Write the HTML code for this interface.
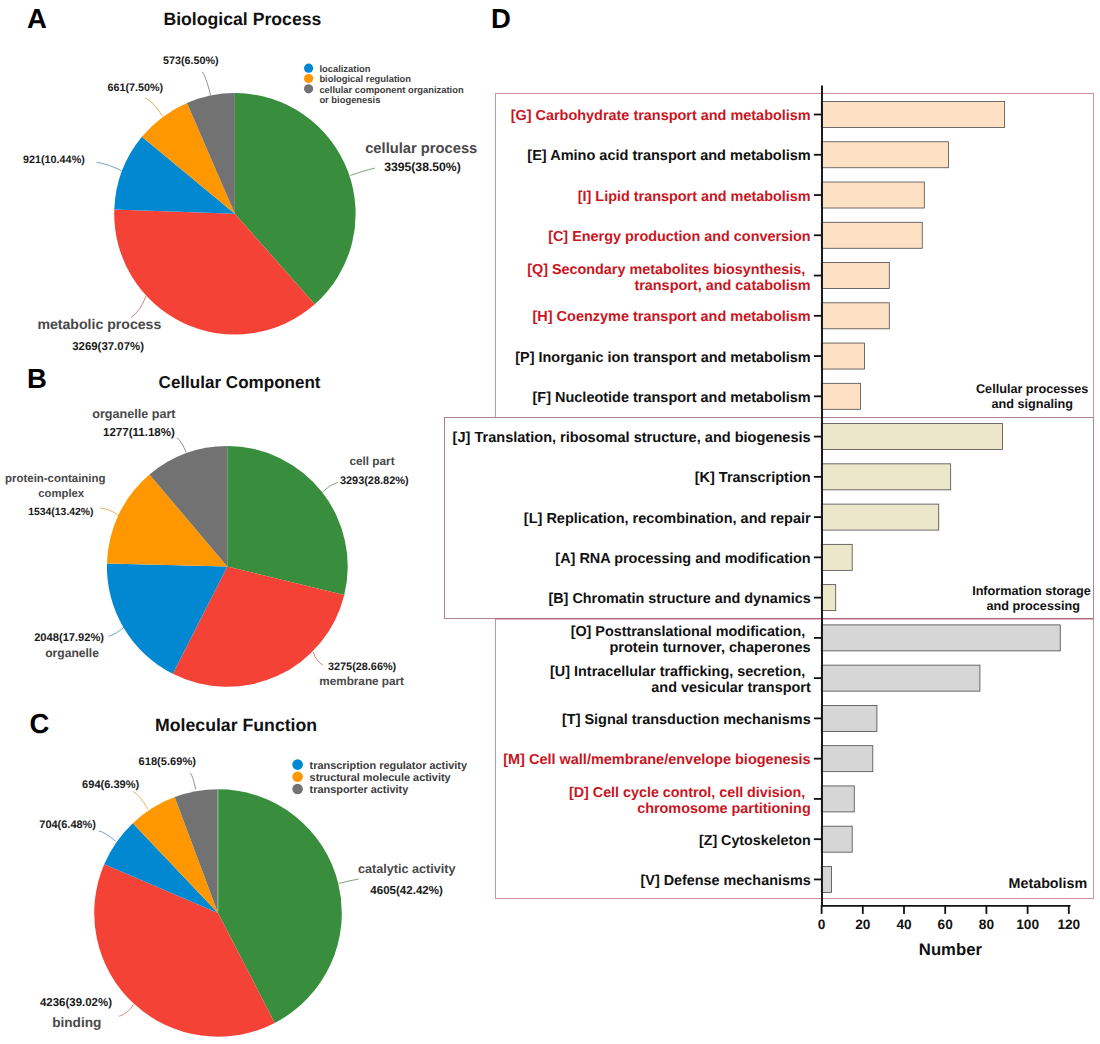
<!DOCTYPE html>
<html><head><meta charset="utf-8"><title>GO and COG annotation</title>
<style>
html,body{margin:0;padding:0;background:#fff;}
body{width:1100px;height:1044px;overflow:hidden;}
svg{display:block;position:absolute;left:0;top:0;font-family:"Liberation Sans",sans-serif;text-rendering:geometricPrecision;}
</style></head>
<body>
<svg width="1100" height="1044" viewBox="0 0 1100 1044">
<rect x="0" y="0" width="1100" height="1044" fill="#ffffff"/>
<text x="27.0" y="27.5" font-size="27.5" font-weight="bold" fill="#000" text-anchor="start" >A</text>
<text x="27.1" y="387.6" font-size="27.5" font-weight="bold" fill="#000" text-anchor="start" >B</text>
<text x="29.5" y="732.8" font-size="27.5" font-weight="bold" fill="#000" text-anchor="start" >C</text>
<text x="491.1" y="27.5" font-size="27.5" font-weight="bold" fill="#000" text-anchor="start" >D</text>
<text x="163.4" y="24.5" font-size="17.66" font-weight="bold" fill="#111" text-anchor="start" >Biological Process</text>
<text x="158.6" y="387.6" font-size="17.06" font-weight="bold" fill="#111" text-anchor="start" >Cellular Component</text>
<text x="155.0" y="730.9" font-size="17.7" font-weight="bold" fill="#111" text-anchor="start" >Molecular Function</text>
<path d="M234.90,213.80 L234.90,93.10 A120.7,120.7 0 0 1 314.74,304.32 Z" fill="#388E3C"/>
<path d="M234.90,213.80 L314.74,304.32 A120.7,120.7 0 0 1 114.28,209.54 Z" fill="#F44336"/>
<path d="M234.90,213.80 L114.28,209.54 A120.7,120.7 0 0 1 141.91,136.85 Z" fill="#0288D1"/>
<path d="M234.90,213.80 L141.91,136.85 A120.7,120.7 0 0 1 186.97,103.03 Z" fill="#FF9800"/>
<path d="M234.90,213.80 L186.97,103.03 A120.7,120.7 0 0 1 234.90,93.10 Z" fill="#727272"/>
<path d="M210.7,95.2 Q205.5,75.5 202.3,71.8" fill="none" stroke="#6f6f6f" stroke-width="0.75"/>
<path d="M162.5,116.1 Q152.5,100.5 144.8,98.0" fill="none" stroke="#e09a30" stroke-width="0.75"/>
<path d="M121.6,170.7 Q108,164 96.6,162.3" fill="none" stroke="#4a86ad" stroke-width="0.75"/>
<path d="M350.4,175.4 Q363,171 375.0,168.0" fill="none" stroke="#4f8552" stroke-width="0.75"/>
<path d="M146.0,296.0 Q140.5,311 131.0,317.4" fill="none" stroke="#cf5a50" stroke-width="0.75"/>
<text x="163.0" y="64.1" font-size="10.75" font-weight="bold" fill="#1a1a1a" text-anchor="start" >573(6.50%)</text>
<text x="107.6" y="90.9" font-size="10.75" font-weight="bold" fill="#1a1a1a" text-anchor="start" >661(7.50%)</text>
<text x="23.0" y="162.5" font-size="10.8" font-weight="bold" fill="#1a1a1a" text-anchor="start" >921(10.44%)</text>
<text x="365.2" y="153.4" font-size="14.73" font-weight="bold" fill="#484848" text-anchor="start" >cellular process</text>
<text x="384.2" y="170.6" font-size="12.2" font-weight="bold" fill="#1a1a1a" text-anchor="start" >3395(38.50%)</text>
<text x="37.4" y="328.6" font-size="14.12" font-weight="bold" fill="#484848" text-anchor="start" >metabolic process</text>
<text x="72.2" y="350.0" font-size="11.43" font-weight="bold" fill="#1a1a1a" text-anchor="start" >3269(37.07%)</text>
<circle cx="308.6" cy="68.20" r="4.6" fill="#0288D1"/>
<circle cx="308.6" cy="78.50" r="4.6" fill="#FF9800"/>
<circle cx="308.6" cy="88.80" r="4.6" fill="#727272"/>
<text x="319.4" y="71.9" font-size="9.4" font-weight="bold" fill="#3c3c3c" text-anchor="start" >localization</text>
<text x="319.4" y="82.4" font-size="9.4" font-weight="bold" fill="#3c3c3c" text-anchor="start" >biological regulation</text>
<text x="319.4" y="92.9" font-size="9.4" font-weight="bold" fill="#3c3c3c" text-anchor="start" >cellular component organization</text>
<text x="319.4" y="103.4" font-size="9.4" font-weight="bold" fill="#3c3c3c" text-anchor="start" >or biogenesis</text>
<path d="M227.30,566.45 L227.30,446.05 A120.4,120.4 0 0 1 344.25,595.07 Z" fill="#388E3C"/>
<path d="M227.30,566.45 L344.25,595.07 A120.4,120.4 0 0 1 172.77,673.80 Z" fill="#F44336"/>
<path d="M227.30,566.45 L172.77,673.80 A120.4,120.4 0 0 1 106.94,563.42 Z" fill="#0288D1"/>
<path d="M227.30,566.45 L106.94,563.42 A120.4,120.4 0 0 1 149.51,474.55 Z" fill="#FF9800"/>
<path d="M227.30,566.45 L149.51,474.55 A120.4,120.4 0 0 1 227.30,446.05 Z" fill="#727272"/>
<path d="M186.0,452.4 Q181.5,440.5 177.0,438.0" fill="none" stroke="#6f6f6f" stroke-width="0.75"/>
<path d="M119.0,515.6 Q109,508.5 100.0,508.0" fill="none" stroke="#e09a30" stroke-width="0.75"/>
<path d="M124.0,627.4 Q116,634.5 108.4,636.4" fill="none" stroke="#4a86ad" stroke-width="0.75"/>
<path d="M322.9,491.6 Q330,484.5 337.8,482.4" fill="none" stroke="#4f8552" stroke-width="0.75"/>
<path d="M313.1,651.8 Q316.5,662 322.9,665.0" fill="none" stroke="#cf5a50" stroke-width="0.75"/>
<text x="92.2" y="418.0" font-size="12.61" font-weight="bold" fill="#484848" text-anchor="start" >organelle part</text>
<text x="103.0" y="436.3" font-size="11.56" font-weight="bold" fill="#1a1a1a" text-anchor="start" >1277(11.18%)</text>
<text x="5.0" y="482.4" font-size="11.46" font-weight="bold" fill="#484848" text-anchor="start" >protein-containing</text>
<text x="38.2" y="497.4" font-size="11.34" font-weight="bold" fill="#484848" text-anchor="start" >complex</text>
<text x="28.2" y="515.0" font-size="10.41" font-weight="bold" fill="#1a1a1a" text-anchor="start" >1534(13.42%)</text>
<text x="34.2" y="640.8" font-size="11.14" font-weight="bold" fill="#1a1a1a" text-anchor="start" >2048(17.92%)</text>
<text x="45.2" y="656.8" font-size="12.1" font-weight="bold" fill="#484848" text-anchor="start" >organelle</text>
<text x="349.4" y="464.9" font-size="11.81" font-weight="bold" fill="#484848" text-anchor="start" >cell part</text>
<text x="339.9" y="483.6" font-size="10.95" font-weight="bold" fill="#1a1a1a" text-anchor="start" >3293(28.82%)</text>
<text x="328.0" y="669.9" font-size="10.87" font-weight="bold" fill="#1a1a1a" text-anchor="start" >3275(28.66%)</text>
<text x="319.3" y="684.7" font-size="11.72" font-weight="bold" fill="#484848" text-anchor="start" >membrane part</text>
<path d="M218.00,912.95 L218.00,789.15 A123.8,123.8 0 0 1 274.76,1022.97 Z" fill="#388E3C"/>
<path d="M218.00,912.95 L274.76,1022.97 A123.8,123.8 0 0 1 104.20,864.21 Z" fill="#F44336"/>
<path d="M218.00,912.95 L104.20,864.21 A123.8,123.8 0 0 1 132.80,823.13 Z" fill="#0288D1"/>
<path d="M218.00,912.95 L132.80,823.13 A123.8,123.8 0 0 1 174.68,796.98 Z" fill="#FF9800"/>
<path d="M218.00,912.95 L174.68,796.98 A123.8,123.8 0 0 1 218.00,789.15 Z" fill="#727272"/>
<line x1="217.9" y1="789.4" x2="217.9" y2="911" stroke="#9fc6a0" stroke-width="1"/>
<path d="M195.7,789.5 Q193,776 190.3,773.1" fill="none" stroke="#6f6f6f" stroke-width="0.75"/>
<path d="M147.9,809.1 Q139.5,794.5 133.1,791.6" fill="none" stroke="#e09a30" stroke-width="0.75"/>
<path d="M115.6,841.4 Q106,832.5 98.6,830.9" fill="none" stroke="#4a86ad" stroke-width="0.75"/>
<path d="M339.0,883.4 Q349,880.8 358.6,879.0" fill="none" stroke="#4f8552" stroke-width="0.75"/>
<path d="M133.5,1004.3 Q128.5,1013.5 118.9,1016.3" fill="none" stroke="#cf5a50" stroke-width="0.75"/>
<text x="138.6" y="764.8" font-size="11.1" font-weight="bold" fill="#1a1a1a" text-anchor="start" >618(5.69%)</text>
<text x="82.1" y="788.4" font-size="11.05" font-weight="bold" fill="#1a1a1a" text-anchor="start" >694(6.39%)</text>
<text x="39.3" y="827.6" font-size="10.97" font-weight="bold" fill="#1a1a1a" text-anchor="start" >704(6.48%)</text>
<text x="357.9" y="873.4" font-size="12.63" font-weight="bold" fill="#484848" text-anchor="start" >catalytic activity</text>
<text x="370.3" y="893.6" font-size="11.56" font-weight="bold" fill="#1a1a1a" text-anchor="start" >4605(42.42%)</text>
<text x="40.0" y="1006.3" font-size="11.46" font-weight="bold" fill="#1a1a1a" text-anchor="start" >4236(39.02%)</text>
<text x="52.2" y="1026.5" font-size="13.6" font-weight="bold" fill="#484848" text-anchor="start" >binding</text>
<circle cx="297.6" cy="764.60" r="5.3" fill="#0288D1"/>
<circle cx="297.6" cy="776.80" r="5.3" fill="#FF9800"/>
<circle cx="297.6" cy="789.00" r="5.3" fill="#727272"/>
<text x="309.6" y="769.0" font-size="10.9" font-weight="bold" fill="#3c3c3c" text-anchor="start" >transcription regulator activity</text>
<text x="309.6" y="781.2" font-size="10.9" font-weight="bold" fill="#3c3c3c" text-anchor="start" >structural molecule activity</text>
<text x="309.6" y="793.4" font-size="10.9" font-weight="bold" fill="#3c3c3c" text-anchor="start" >transporter activity</text>
<rect x="495.5" y="93.5" width="598" height="324" fill="none" stroke="#CB939D" stroke-width="1"/>
<rect x="495.5" y="618.5" width="598" height="280" fill="none" stroke="#CB939D" stroke-width="1"/>
<rect x="444.5" y="417.5" width="649" height="201" fill="none" stroke="#AE858C" stroke-width="1"/>
<line x1="495.5" y1="618.9" x2="1093.5" y2="618.9" stroke="#B9536A" stroke-width="1"/>
<rect x="821.30" y="101.50" width="183.34" height="26.0" fill="#FEE0C5" stroke="#4a4a4a" stroke-width="0.8"/>
<line x1="813.9" y1="114.50" x2="822.0" y2="114.50" stroke="#111" stroke-width="1.8"/>
<text x="810.7" y="120.1" font-size="14.45" font-weight="bold" fill="#C9151E" text-anchor="end" >[G] Carbohydrate transport and metabolism</text>
<rect x="821.30" y="141.76" width="127.10" height="26.0" fill="#FEE0C5" stroke="#4a4a4a" stroke-width="0.8"/>
<line x1="813.9" y1="154.76" x2="822.0" y2="154.76" stroke="#111" stroke-width="1.8"/>
<text x="810.7" y="160.36" font-size="14.53" font-weight="bold" fill="#111" text-anchor="end" >[E] Amino acid transport and metabolism</text>
<rect x="821.30" y="182.02" width="103.00" height="26.0" fill="#FEE0C5" stroke="#4a4a4a" stroke-width="0.8"/>
<line x1="813.9" y1="195.02" x2="822.0" y2="195.02" stroke="#111" stroke-width="1.8"/>
<text x="810.7" y="200.62" font-size="14.41" font-weight="bold" fill="#C9151E" text-anchor="end" >[I] Lipid transport and metabolism</text>
<rect x="821.30" y="222.28" width="100.94" height="26.0" fill="#FEE0C5" stroke="#4a4a4a" stroke-width="0.8"/>
<line x1="813.9" y1="235.28" x2="822.0" y2="235.28" stroke="#111" stroke-width="1.8"/>
<text x="810.7" y="240.88" font-size="14.42" font-weight="bold" fill="#C9151E" text-anchor="end" >[C] Energy production and conversion</text>
<rect x="821.30" y="262.54" width="67.98" height="26.0" fill="#FEE0C5" stroke="#4a4a4a" stroke-width="0.8"/>
<line x1="813.9" y1="275.54" x2="822.0" y2="275.54" stroke="#111" stroke-width="1.8"/>
<text x="805.2" y="273.54" font-size="14.38" font-weight="bold" fill="#C9151E" text-anchor="end" >[Q] Secondary metabolites biosynthesis,</text>
<text x="810.7" y="289.64" font-size="14.43" font-weight="bold" fill="#C9151E" text-anchor="end" >transport, and catabolism</text>
<rect x="821.30" y="302.80" width="67.98" height="26.0" fill="#FEE0C5" stroke="#4a4a4a" stroke-width="0.8"/>
<line x1="813.9" y1="315.80" x2="822.0" y2="315.80" stroke="#111" stroke-width="1.8"/>
<text x="810.7" y="321.4" font-size="14.47" font-weight="bold" fill="#C9151E" text-anchor="end" >[H] Coenzyme transport and metabolism</text>
<rect x="821.30" y="343.06" width="43.26" height="26.0" fill="#FEE0C5" stroke="#4a4a4a" stroke-width="0.8"/>
<line x1="813.9" y1="356.06" x2="822.0" y2="356.06" stroke="#111" stroke-width="1.8"/>
<text x="810.7" y="361.66" font-size="14.46" font-weight="bold" fill="#111" text-anchor="end" >[P] Inorganic ion transport and metabolism</text>
<rect x="821.30" y="383.32" width="39.14" height="26.0" fill="#FEE0C5" stroke="#4a4a4a" stroke-width="0.8"/>
<line x1="813.9" y1="396.32" x2="822.0" y2="396.32" stroke="#111" stroke-width="1.8"/>
<text x="810.7" y="401.92" font-size="14.47" font-weight="bold" fill="#111" text-anchor="end" >[F] Nucleotide transport and metabolism</text>
<rect x="821.30" y="423.58" width="181.28" height="26.0" fill="#ECE7CB" stroke="#4a4a4a" stroke-width="0.8"/>
<line x1="813.9" y1="436.58" x2="822.0" y2="436.58" stroke="#111" stroke-width="1.8"/>
<text x="810.7" y="442.18" font-size="14.55" font-weight="bold" fill="#111" text-anchor="end" >[J] Translation, ribosomal structure, and biogenesis</text>
<rect x="821.30" y="463.84" width="129.37" height="26.0" fill="#ECE7CB" stroke="#4a4a4a" stroke-width="0.8"/>
<line x1="813.9" y1="476.84" x2="822.0" y2="476.84" stroke="#111" stroke-width="1.8"/>
<text x="810.7" y="482.44" font-size="14.5" font-weight="bold" fill="#111" text-anchor="end" >[K] Transcription</text>
<rect x="821.30" y="504.10" width="117.42" height="26.0" fill="#ECE7CB" stroke="#4a4a4a" stroke-width="0.8"/>
<line x1="813.9" y1="517.10" x2="822.0" y2="517.10" stroke="#111" stroke-width="1.8"/>
<text x="810.7" y="522.7" font-size="14.5" font-weight="bold" fill="#111" text-anchor="end" >[L] Replication, recombination, and repair</text>
<rect x="821.30" y="544.36" width="30.90" height="26.0" fill="#ECE7CB" stroke="#4a4a4a" stroke-width="0.8"/>
<line x1="813.9" y1="557.36" x2="822.0" y2="557.36" stroke="#111" stroke-width="1.8"/>
<text x="810.7" y="562.96" font-size="14.44" font-weight="bold" fill="#111" text-anchor="end" >[A] RNA processing and modification</text>
<rect x="821.30" y="584.62" width="14.42" height="26.0" fill="#ECE7CB" stroke="#4a4a4a" stroke-width="0.8"/>
<line x1="813.9" y1="597.62" x2="822.0" y2="597.62" stroke="#111" stroke-width="1.8"/>
<text x="810.7" y="603.22" font-size="14.4" font-weight="bold" fill="#111" text-anchor="end" >[B] Chromatin structure and dynamics</text>
<rect x="821.30" y="624.88" width="238.96" height="26.0" fill="#D6D6D6" stroke="#4a4a4a" stroke-width="0.8"/>
<line x1="813.9" y1="637.88" x2="822.0" y2="637.88" stroke="#111" stroke-width="1.8"/>
<text x="805.2" y="635.88" font-size="14.36" font-weight="bold" fill="#111" text-anchor="end" >[O] Posttranslational modification,</text>
<text x="810.7" y="651.98" font-size="14.56" font-weight="bold" fill="#111" text-anchor="end" >protein turnover, chaperones</text>
<rect x="821.30" y="665.14" width="158.62" height="26.0" fill="#D6D6D6" stroke="#4a4a4a" stroke-width="0.8"/>
<line x1="813.9" y1="678.14" x2="822.0" y2="678.14" stroke="#111" stroke-width="1.8"/>
<text x="805.2" y="676.14" font-size="14.4" font-weight="bold" fill="#111" text-anchor="end" >[U] Intracellular trafficking, secretion,</text>
<text x="810.7" y="692.24" font-size="14.41" font-weight="bold" fill="#111" text-anchor="end" >and vesicular transport</text>
<rect x="821.30" y="705.40" width="55.62" height="26.0" fill="#D6D6D6" stroke="#4a4a4a" stroke-width="0.8"/>
<line x1="813.9" y1="718.40" x2="822.0" y2="718.40" stroke="#111" stroke-width="1.8"/>
<text x="810.7" y="724.0" font-size="14.44" font-weight="bold" fill="#111" text-anchor="end" >[T] Signal transduction mechanisms</text>
<rect x="821.30" y="745.66" width="51.50" height="26.0" fill="#D6D6D6" stroke="#4a4a4a" stroke-width="0.8"/>
<line x1="813.9" y1="758.66" x2="822.0" y2="758.66" stroke="#111" stroke-width="1.8"/>
<text x="810.7" y="764.26" font-size="14.49" font-weight="bold" fill="#C9151E" text-anchor="end" >[M] Cell wall/membrane/envelope biogenesis</text>
<rect x="821.30" y="785.92" width="32.96" height="26.0" fill="#D6D6D6" stroke="#4a4a4a" stroke-width="0.8"/>
<line x1="813.9" y1="798.92" x2="822.0" y2="798.92" stroke="#111" stroke-width="1.8"/>
<text x="805.2" y="796.92" font-size="14.32" font-weight="bold" fill="#C9151E" text-anchor="end" >[D] Cell cycle control, cell division,</text>
<text x="810.7" y="813.02" font-size="14.4" font-weight="bold" fill="#C9151E" text-anchor="end" >chromosome partitioning</text>
<rect x="821.30" y="826.18" width="30.90" height="26.0" fill="#D6D6D6" stroke="#4a4a4a" stroke-width="0.8"/>
<line x1="813.9" y1="839.18" x2="822.0" y2="839.18" stroke="#111" stroke-width="1.8"/>
<text x="810.7" y="844.78" font-size="14.27" font-weight="bold" fill="#111" text-anchor="end" >[Z] Cytoskeleton</text>
<rect x="821.30" y="866.44" width="10.30" height="26.0" fill="#D6D6D6" stroke="#4a4a4a" stroke-width="0.8"/>
<line x1="813.9" y1="879.44" x2="822.0" y2="879.44" stroke="#111" stroke-width="1.8"/>
<text x="810.7" y="885.04" font-size="14.39" font-weight="bold" fill="#111" text-anchor="end" >[V] Defense mechanisms</text>
<line x1="822.0" y1="85.4" x2="822.0" y2="906.8" stroke="#111" stroke-width="1.9"/>
<line x1="821.1" y1="905.85" x2="1070.5" y2="905.85" stroke="#111" stroke-width="1.9"/>
<line x1="821.60" y1="905" x2="821.60" y2="913.9" stroke="#111" stroke-width="1.8"/>
<text x="821.6" y="929.1" font-size="13.7" font-weight="bold" fill="#111" text-anchor="middle" >0</text>
<line x1="862.80" y1="905" x2="862.80" y2="913.9" stroke="#111" stroke-width="1.8"/>
<text x="862.8" y="929.1" font-size="13.7" font-weight="bold" fill="#111" text-anchor="middle" >20</text>
<line x1="904.00" y1="905" x2="904.00" y2="913.9" stroke="#111" stroke-width="1.8"/>
<text x="904.0" y="929.1" font-size="13.7" font-weight="bold" fill="#111" text-anchor="middle" >40</text>
<line x1="945.20" y1="905" x2="945.20" y2="913.9" stroke="#111" stroke-width="1.8"/>
<text x="945.2" y="929.1" font-size="13.7" font-weight="bold" fill="#111" text-anchor="middle" >60</text>
<line x1="986.40" y1="905" x2="986.40" y2="913.9" stroke="#111" stroke-width="1.8"/>
<text x="986.4" y="929.1" font-size="13.7" font-weight="bold" fill="#111" text-anchor="middle" >80</text>
<line x1="1027.60" y1="905" x2="1027.60" y2="913.9" stroke="#111" stroke-width="1.8"/>
<text x="1027.6" y="929.1" font-size="13.7" font-weight="bold" fill="#111" text-anchor="middle" >100</text>
<line x1="1068.80" y1="905" x2="1068.80" y2="913.9" stroke="#111" stroke-width="1.8"/>
<text x="1068.8" y="929.1" font-size="13.7" font-weight="bold" fill="#111" text-anchor="middle" >120</text>
<text x="950.4" y="954.9" font-size="16.7" font-weight="bold" fill="#111" text-anchor="middle" >Number</text>
<text x="1032.2" y="393.2" font-size="12.65" font-weight="bold" fill="#111" text-anchor="middle" >Cellular processes</text>
<text x="1032.2" y="408.0" font-size="12.65" font-weight="bold" fill="#111" text-anchor="middle" >and signaling</text>
<text x="1031.5" y="595.3" font-size="12.65" font-weight="bold" fill="#111" text-anchor="middle" >Information storage</text>
<text x="1033.2" y="610.4" font-size="12.65" font-weight="bold" fill="#111" text-anchor="middle" >and processing</text>
<text x="1047.9" y="888.2" font-size="14.3" font-weight="bold" fill="#111" text-anchor="middle" >Metabolism</text>
</svg>
</body></html>
